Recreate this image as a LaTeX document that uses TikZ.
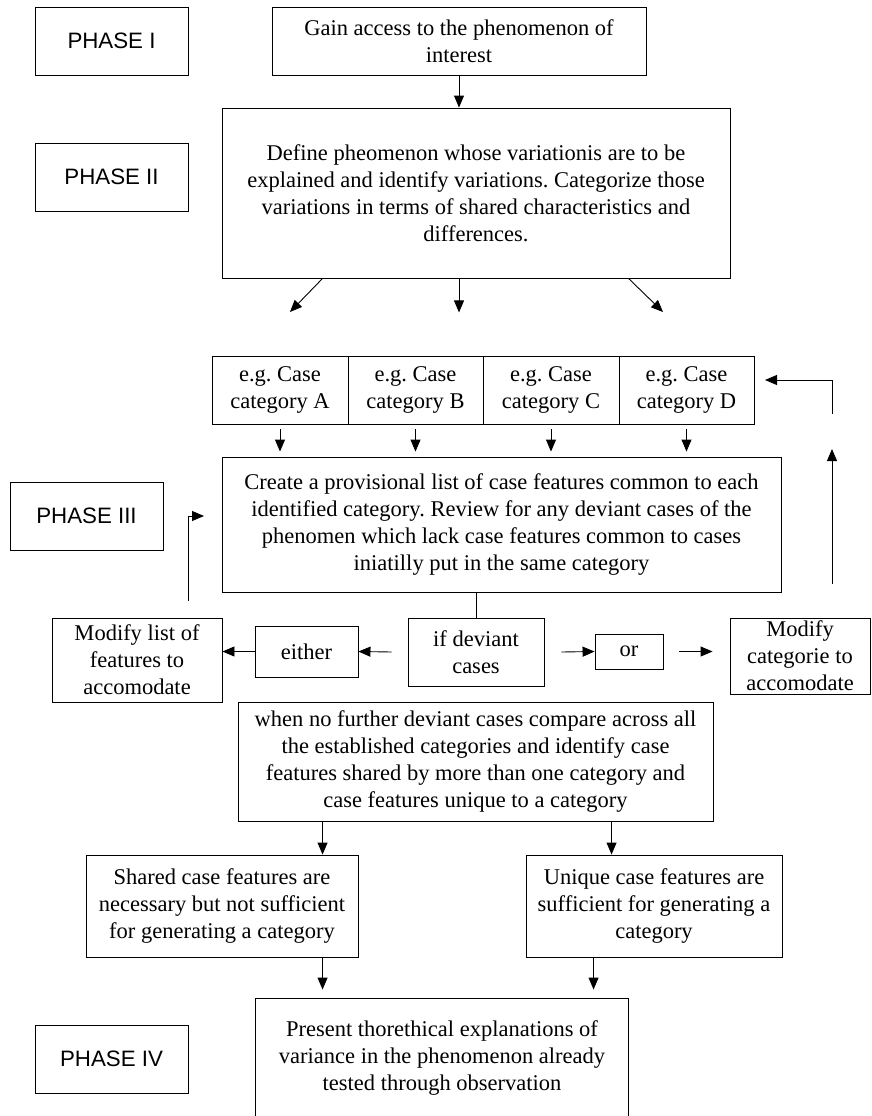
\documentclass[tikz,border=0pt]{standalone}
\usepackage{fontspec}
\setmainfont{Liberation Serif}
\newfontfamily\phasefont{Liberation Sans}
\usetikzlibrary{arrows.meta,calc}
\begin{document}
\begin{tikzpicture}[x=1pt,y=-1pt,
  wordbox/.style={draw, line width=0.9pt, inner sep=0pt,
    font=\fontsize{22.5}{27}\selectfont\frenchspacing},
  box/.style={wordbox, align=center},
  phasebox/.style={draw, line width=0.9pt, inner sep=0pt,
    minimum width=153pt, minimum height=68pt,
    font=\phasefont\fontsize{22.3}{27}\selectfont},
  arr/.style={line width=0.9pt, -{Triangle[length=12pt,width=10pt]}},
  link/.style={line width=0.9pt}]
\useasboundingbox (0,0) rectangle (871,1116);

% phase labels
\node[phasebox] (p1) at (111.5,41)   {PHASE I};
\node[phasebox] (p2) at (111.5,177)  {PHASE II};
\node[phasebox] (p3) at (86.5,516)   {PHASE III};
\node[phasebox] (p4) at (111.5,1059) {PHASE IV};

% phase I and II
\node[box, minimum width=374pt, minimum height=68pt] (gain) at (459,41)
  {Gain access to the phenomenon of\\interest};
\node[box, minimum width=508pt, minimum height=170pt] (def) at (476,193)
  {Define pheomenon whose variationis are to be\\explained and identify variations. Categorize those\\variations in terms of shared characteristics and\\differences.};

% case categories
\node[box, minimum width=136pt, minimum height=68pt] (cA) at (280,390)   {e.g. Case\\category A};
\node[box, minimum width=135pt, minimum height=68pt] (cB) at (415.5,390) {e.g. Case\\category B};
\node[box, minimum width=136pt, minimum height=68pt] (cC) at (551,390)   {e.g. Case\\category C};
\node[box, minimum width=135pt, minimum height=68pt] (cD) at (686.5,390) {e.g. Case\\category D};

% phase III
\node[box, minimum width=559pt, minimum height=135pt] (create) at (501.5,524.5)
  {Create a provisional list of case features common to each\\identified category. Review for any deviant cases of the\\phenomen which lack case features common to cases\\iniatilly put in the same category};
\node[box, minimum width=170pt, minimum height=84pt] (modlist) at (137,660)
  {Modify list of\\features to\\accomodate};
\node[wordbox, minimum width=103pt, minimum height=51pt, text height=15.5pt, text depth=0pt] (either) at (306.5,651.5) {either};
\node[box, minimum width=136pt, minimum height=68pt] (ifdev) at (476,652) {if deviant\\cases};
\node[wordbox, minimum width=68pt, minimum height=35pt, text height=10.5pt, text depth=0pt] (or) at (629,651.5) {or};
\node[box, minimum width=140pt, minimum height=76pt] (modcat) at (800,656)
  {Modify\\categorie to\\accomodate};
\node[box, minimum width=475pt, minimum height=119pt] (when) at (475.5,761.5)
  {when no further deviant cases compare across all\\the established categories and identify case\\features shared by more than one category and\\case features unique to a category};
\node[box, minimum width=272pt, minimum height=102pt] (shared) at (222,906)
  {Shared case features are\\necessary but not sufficient\\for generating a category};
\node[box, minimum width=256pt, minimum height=102pt] (unique) at (654,906)
  {Unique case features are\\sufficient for generating a\\category};

% phase IV (box runs past the lower edge)
\node[box, draw=none, minimum width=372pt, minimum height=117pt] (present) at (442,1057.5)
  {Present thorethical explanations of\\variance in the phenomenon already\\tested through observation};
\draw[link] (present.south west) -- (present.north west) -- (present.north east) -- (present.south east);

% free ends of connectors
\coordinate (d1) at (290,312);
\coordinate (d3) at (663,312);
\coordinate (lfa) at (188,601);
\coordinate (lfb) at (204,516);
\coordinate (rfa) at (832,584);
\coordinate (rfb) at (832,449);
\coordinate (rfc) at (832,414);
\coordinate (rfd) at (765,380);
\coordinate (w1) at ($(when.south west)+(85,0)$);
\coordinate (w2) at ($(when.south west)+(374,0)$);
\coordinate (u1) at ($(unique.south west)+(68,0)$);

% connectors
\draw[arr] (gain.south) -- (gain.south |- def.north);
\draw[arr] ($(def.south west)+(101,0)$) -- (d1);
\draw[arr] (gain.south |- def.south) -- ($(gain.south |- def.south)+(0,34)$);
\draw[arr] ($(def.south west)+(407,0)$) -- (d3);

\foreach \c in {cA,cB,cC,cD}
  \draw[arr] ($(\c.south)+(0,5)$) -- ($(\c.south |- create.north)+(0,-5)$);

\draw[arr] (lfa) |- (lfb);
\draw[arr] (rfa) -- (rfb);
\draw[arr] (rfc) |- (rfd);

\draw[link] (ifdev.north |- create.south) -- (ifdev.north);
\draw[arr] ($(ifdev.west)+(-16,0)$) -- (either.east);
\draw[arr] (either.west) -- (either.west -| modlist.east);
\draw[arr] ($(ifdev.east)+(17,0)$) -- (or.west);
\draw[arr] ($(or.east)+(16,0)$) -- ($(or.east -| modcat.west)+(-17,0)$);

\draw[arr] (w1) -- (w1 |- shared.north);
\draw[arr] (w2) -- (w2 |- unique.north);
\draw[arr] (w1 |- shared.south) -- ($(w1 |- present.north)+(0,-9)$);
\draw[arr] (u1) -- ($(u1 |- present.north)+(0,-9)$);
\end{tikzpicture}
\end{document}
